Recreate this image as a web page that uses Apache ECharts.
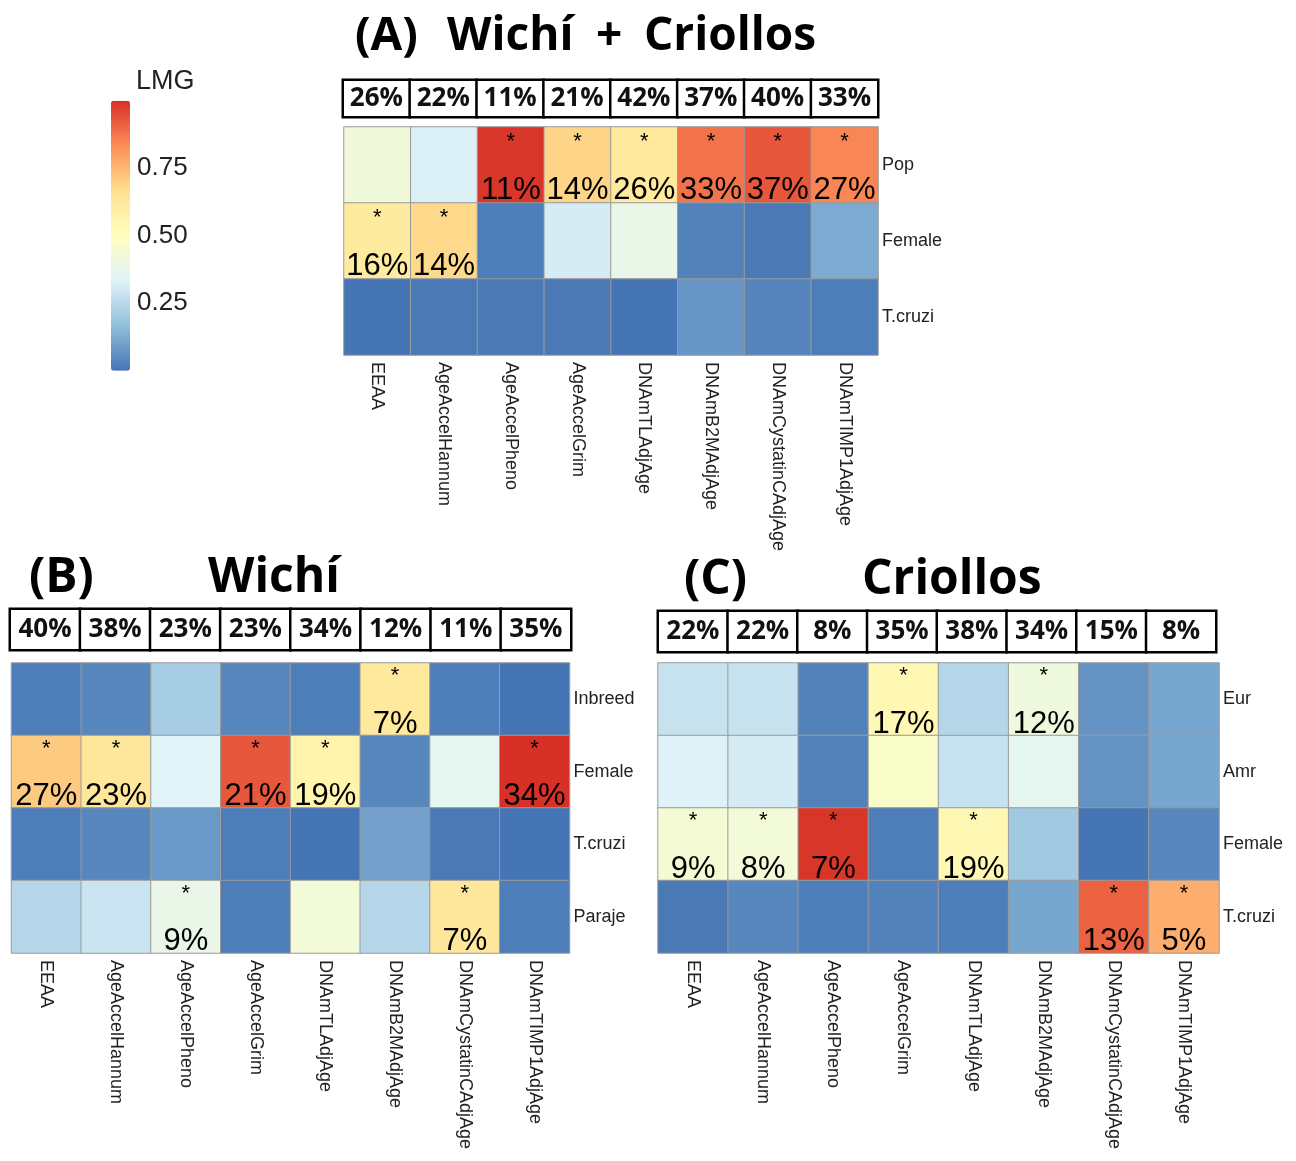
<!DOCTYPE html>
<html><head><meta charset="utf-8">
<script src="https://cdn.jsdelivr.net/npm/echarts@6/dist/echarts.min.js"></script>
<style>html,body{margin:0;padding:0;background:#fff}#c{width:1296px;height:1161px}</style>
</head><body><div id="c"></div>
<script>
// ---------- data ----------
const clocks = ['EEAA','AgeAccelHannum','AgeAccelPheno','AgeAccelGrim','DNAmTLAdjAge','DNAmB2MAdjAge','DNAmCystatinCAdjAge','DNAmTIMP1AdjAge'];

const rowsA = ['Pop','Female','T.cruzi'];
const valuesA = [
  [0.42, 0.32, 0.99, 0.69, 0.62, 0.88, 0.93, 0.845],
  [0.61, 0.68, 0.02, 0.31, 0.38, 0.03, 0.01, 0.12],
  [0.00, 0.01, 0.01, 0.01, 0.00, 0.075, 0.035, 0.02]
];
const cellPctA = [
  ['', '', '11%', '14%', '26%', '33%', '37%', '27%'],
  ['16%', '14%', '', '', '', '', '', ''],
  ['', '', '', '', '', '', '', '']
];
const totalA = [26, 22, 11, 21, 42, 37, 40, 33];

const rowsB = ['Inbreed','Female','T.cruzi','Paraje'];
const valuesB = [
  [0.02, 0.04, 0.21, 0.04, 0.02, 0.62, 0.02, 0.00],
  [0.71, 0.63, 0.34, 0.93, 0.565, 0.04, 0.36, 1.00],
  [0.02, 0.04, 0.08, 0.02, 0.00, 0.10, 0.01, 0.00],
  [0.24, 0.285, 0.38, 0.02, 0.43, 0.24, 0.63, 0.02]
];
const cellPctB = [
  ['', '', '', '', '', '7%', '', ''],
  ['27%', '23%', '', '21%', '19%', '', '', '34%'],
  ['', '', '', '', '', '', '', ''],
  ['', '', '9%', '', '', '', '7%', '']
];
const totalB = [40, 38, 23, 23, 34, 12, 11, 35];

const rowsC = ['Eur','Amr','Female','T.cruzi'];
const valuesC = [
  [0.28, 0.28, 0.03, 0.54, 0.24, 0.41, 0.07, 0.11],
  [0.33, 0.31, 0.03, 0.47, 0.28, 0.36, 0.07, 0.11],
  [0.44, 0.43, 0.99, 0.02, 0.54, 0.20, 0.00, 0.04],
  [0.01, 0.04, 0.02, 0.03, 0.02, 0.11, 0.91, 0.77]
];
const cellPctC = [
  ['', '', '', '17%', '', '12%', '', ''],
  ['', '', '', '', '', '', '', ''],
  ['9%', '8%', '7%', '', '19%', '', '', ''],
  ['', '', '', '', '', '', '13%', '5%']
];
const totalC = [22, 22, 8, 35, 38, 34, 15, 8];

const colorbarTicks = [0.25, 0.5, 0.75];
const lmgColors = ['#4575b4','#91bfdb','#e0f3f8','#ffffbf','#fee090','#fc8d59','#d73027'];

// ---------- build ----------
const SANS = '"Liberation Sans", Arial, sans-serif';
const BOLD = '"Open Sans", "Noto Sans", sans-serif';

const grids = [], xAxes = [], yAxes = [], series = [], mainIdx = [];

// colorbar tick axis
grids.push({left: 111, top: 100.7, width: 19, height: 270, outerBoundsMode: 'none'});
xAxes.push({gridIndex: 0, type: 'value', show: false});
yAxes.push({gridIndex: 0, type: 'value', min: 0, max: 1, interval: 0.25, position: 'right',
  axisLine: {show: false}, axisTick: {show: false}, splitLine: {show: false},
  axisLabel: {margin: 7, fontSize: 26, color: '#222', fontFamily: SANS,
    formatter: v => colorbarTicks.some(t => Math.abs(t - v) < 1e-9) ? v.toFixed(2) : ''}});

function addPanel(box, grid, rows, values, cellPct, totals) {
  // totals boxes
  const gb = grids.length;
  grids.push(Object.assign({outerBoundsMode: 'none'}, box));
  xAxes.push({gridIndex: gb, type: 'category', data: clocks, show: false});
  yAxes.push({gridIndex: gb, type: 'category', data: ['total'], show: false});
  series.push({type: 'heatmap', xAxisIndex: gb, yAxisIndex: gb,
    data: totals.map((t, i) => [i, 0, t]),
    itemStyle: {color: '#fff', borderColor: '#000', borderWidth: 2.5},
    label: {show: true, formatter: p => p.data[2] + '%', fontSize: 26, fontWeight: 'bold',
      fontFamily: BOLD, color: '#111'},
    emphasis: {disabled: true}, silent: true});
  // main heatmap
  const g = grids.length;
  grids.push(Object.assign({outerBoundsMode: 'none'}, grid));
  xAxes.push({gridIndex: g, type: 'category', data: clocks, position: 'bottom',
    axisLine: {show: false}, axisTick: {show: false}, splitLine: {show: false},
    axisLabel: {interval: 0, rotate: -90, margin: 7, fontSize: 18, color: '#222', fontFamily: SANS}});
  yAxes.push({gridIndex: g, type: 'category', data: rows, inverse: true, position: 'right',
    axisLine: {show: false}, axisTick: {show: false}, splitLine: {show: false},
    axisLabel: {margin: 4, fontSize: 18, color: '#222', fontFamily: SANS}});
  const data = [];
  values.forEach((row, r) => row.forEach((v, c) => data.push([c, r, v])));
  mainIdx.push(series.length);
  series.push({type: 'heatmap', xAxisIndex: g, yAxisIndex: g, data,
    itemStyle: {borderColor: '#9a9a9a', borderWidth: 1},
    label: {show: true, fontFamily: SANS, color: '#000',
      formatter: p => {
        const s = cellPct[p.data[1]][p.data[0]];
        return s ? '{s|*}\n{p|' + s + '}' : '';
      },
      rich: {
        s: {fontSize: 22, lineHeight: 50, color: '#000', fontFamily: SANS},
        p: {fontSize: 31, lineHeight: 46, color: '#000', fontFamily: SANS}
      }},
    emphasis: {disabled: true}, silent: true});
}

addPanel({left: 343, top: 80, width: 535, height: 37},
         {left: 344, top: 127, width: 534, height: 228},
         rowsA, valuesA, cellPctA, totalA);
addPanel({left: 10, top: 609, width: 561, height: 41},
         {left: 11.5, top: 663, width: 558, height: 290},
         rowsB, valuesB, cellPctB, totalB);
addPanel({left: 658, top: 611, width: 558, height: 41},
         {left: 658, top: 663, width: 561, height: 290},
         rowsC, valuesC, cellPctC, totalC);

function title(text, x, y, size) {
  return {type: 'text', x, y, silent: true,
    style: {text, font: 'bold ' + size + 'px ' + BOLD, fill: '#000', verticalAlign: 'middle', align: 'left'}};
}

const option = {
  animation: false,
  backgroundColor: '#fff',
  grid: grids, xAxis: xAxes, yAxis: yAxes, series,
  visualMap: {type: 'continuous', min: 0, max: 1, seriesIndex: mainIdx,
    inRange: {color: lmgColors}, orient: 'vertical', left: 111, top: 100.7,
    itemWidth: 19, itemHeight: 270, padding: 0, calculable: false, hoverLink: false},
  graphic: [
    {type: 'text', x: 136, y: 82, silent: true,
     style: {text: 'LMG', font: '27px ' + SANS, fill: '#222', verticalAlign: 'middle'}},
    title('(A)', 355, 37, 46), title('Wichí', 447, 37, 46), title('+', 596, 37, 46), title('Criollos', 644, 37, 46),
    title('(B)', 29, 578, 48), title('Wichí', 208, 578, 48),
    title('(C)', 684, 580, 48), title('Criollos', 862, 580, 48)
  ]
};

echarts.init(document.getElementById('c')).setOption(option);
</script>
</body></html>
